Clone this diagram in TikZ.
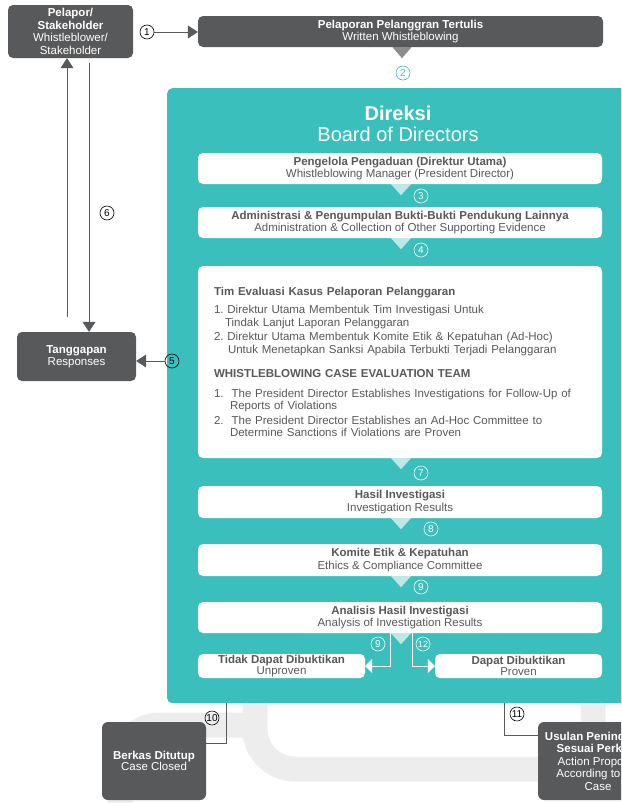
\documentclass[tikz,border=0pt]{standalone}
\usepackage{fontspec}
\setmainfont{Liberation Sans}
\usetikzlibrary{arrows.meta}

\definecolor{boxgray}{HTML}{58595B}
\definecolor{tipgray}{HTML}{8C8C8C}
\definecolor{wbteal}{HTML}{3BBFBC}
\definecolor{tipteal}{HTML}{BDE8E6}
\definecolor{bandgray}{HTML}{EDEDED}

\newcommand{\boxfont}{\fontsize{11.5}{12.5}\selectfont}

\tikzset{
	dbox/.style={fill=boxgray, rounded corners=5pt, text=white, align=center, inner sep=0pt},
	wbox/.style={fill=white, rounded corners=5pt, text=boxgray, align=center, inner sep=0pt, minimum width=404pt},
	num/.style={circle, draw, line width=0.6pt, inner sep=0pt, minimum size=14pt, font=\fontsize{10}{10}\selectfont},
	flow/.style={draw=boxgray, line width=0.8pt, -{Triangle[length=10pt,width=13pt]}},
	link/.style={draw=boxgray, line width=0.8pt},
	wflow/.style={draw=white, line width=0.8pt, -{Triangle[length=7pt,width=14pt]}},
	band/.style={draw=bandgray, line width=25pt, rounded corners=40pt},
}

\begin{document}
\begin{tikzpicture}[x=1pt, y=-1pt, font=\boxfont]
	\useasboundingbox (0,0) rectangle (621,803);
	\clip (0,0) rectangle (621,803);

	% grey bands in the background
	\draw [band] (255,690) -- (255,769) -- (593,769) -- (593,690);
	\draw [band] (255,725) -- (120,725) -- (120,840);

	% reporter and written report
	\node [dbox, minimum width=125pt, minimum height=53pt] (pelapor) at (70.5,31.5) {\textbf{Pelapor/}\\\textbf{Stakeholder}\\Whistleblower/\\Stakeholder};
	\node [dbox, minimum width=405pt, minimum height=31pt] (pelaporan) at (400.5,31.5) {\textbf{Pelaporan Pelanggran Tertulis}\\Written Whistleblowing};
	\fill [tipgray] ([xshift=-8pt]pelaporan.south) -- ([xshift=11pt]pelaporan.south) -- ([xshift=1.5pt,yshift=-11pt]pelaporan.south) -- cycle;
	\node [num] (n1) at (147,32) {1};
	\draw [flow] (n1) -- (n1 -| pelaporan.west);
	\node [num, draw=wbteal, text=wbteal] (n2) at (403,73) {2};

	% board of directors
	\node [fill=wbteal, rounded corners=5pt, anchor=north west, inner sep=0pt, minimum width=480pt, minimum height=615pt] (bod) at (167,88) {};
	\node [text=white, font=\bfseries\fontsize{20}{20}\selectfont] (direksi) at (398,113) {Direksi};
	\node [text=white, font=\fontsize{20}{20}\selectfont] (board) at (398,134) {Board of Directors};

	\node [wbox, minimum height=31pt] (manager) at (400,168.5) {\textbf{Pengelola Pengaduan (Direktur Utama)}\\Whistleblowing Manager (President Director)};
	\node [wbox, minimum height=31pt] (admin) at (400,222.5) {\textbf{Administrasi \& Pengumpulan Bukti-Bukti Pendukung Lainnya}\\Administration \& Collection of Other Supporting Evidence};
	\node [wbox, minimum height=192pt, text width=372pt, align=left] (team) at (400,362) {%
		\textbf{Tim Evaluasi Kasus Pelaporan Pelanggaran}\\[6pt]
		1.\ Direktur Utama Membentuk Tim Investigasi Untuk\\
		\hspace*{11pt}Tindak Lanjut Laporan Pelanggaran\\[2pt]
		2.\ Direktur Utama Membentuk Komite Etik \& Kepatuhan (Ad-Hoc)\\
		\hspace*{14pt}Untuk Menetapkan Sanksi Apabila Terbukti Terjadi Pelanggaran\\[12pt]
		\textbf{WHISTLEBLOWING CASE EVALUATION TEAM}\\[7pt]
		1.\hspace{8pt}The President Director Establishes Investigations for Follow-Up of\\
		\hspace*{16pt}Reports of Violations\\[2pt]
		2.\hspace{8pt}The President Director Establishes an Ad-Hoc Committee to\\
		\hspace*{16pt}Determine Sanctions if Violations are Proven};
	\node [wbox, minimum height=32pt] (result) at (400,502) {\textbf{Hasil Investigasi}\\Investigation Results};
	\node [wbox, minimum height=32pt] (ethics) at (400,560) {\textbf{Komite Etik \& Kepatuhan}\\Ethics \& Compliance Committee};
	\node [wbox, minimum height=31pt] (analysis) at (400,617.5) {\textbf{Analisis Hasil Investigasi}\\Analysis of Investigation Results};
	\node [wbox, minimum width=167pt, minimum height=24pt, font=\fontsize{11.5}{11}\selectfont] (unproven) at (281.5,666) {\textbf{Tidak Dapat Dibuktikan}\\Unproven};
	\node [wbox, minimum width=167pt, minimum height=24pt, font=\fontsize{11.5}{11}\selectfont] (proven) at (518.5,666) {\textbf{Dapat Dibuktikan}\\Proven};

	\foreach \b in {manager,admin,team,result,ethics,analysis}
		\fill [tipteal] ([xshift=-9pt]\b.south) -- ([xshift=11pt]\b.south) -- ([xshift=1pt,yshift=-11pt]\b.south) -- cycle;

	\node [num, draw=white, text=white] (n3) at (421,196) {3};
	\node [num, draw=white, text=white] (n4) at (421,250) {4};
	\node [num, draw=white, text=white] (n7) at (421,473) {7};
	\node [num, draw=white, text=white] (n8) at (431,529) {8};
	\node [num, draw=white, text=white] (n9) at (421,587) {9};
	\node [num, draw=white, text=white] (n9b) at (378,644) {9};
	\node [num, draw=white, text=white, font=\fontsize{9}{9}\selectfont] (n12) at (423,644) {12};

	\coordinate (l9) at (390,640);
	\coordinate (l12) at (412,640);
	\draw [wflow] (analysis.south -| l9) |- (unproven.east);
	\draw [wflow] (analysis.south -| l12) |- (proven.west);

	% responses
	\node [dbox, minimum width=119pt, minimum height=49pt] (tanggapan) at (76.5,356.5) {\textbf{Tanggapan}\\Responses};
	\node [num] (n5) at (172,361) {5};
	\draw [flow] (n5.west) -- (n5.west -| tanggapan.east);
	\coordinate (up6) at (67,0);
	\coordinate (dn6) at (89,0);
	\draw [flow, shorten <=15pt] (tanggapan.north -| up6) -- (pelapor.south -| up6);
	\draw [flow, shorten <=5pt] (pelapor.south -| dn6) -- (tanggapan.north -| dn6);
	\node [num] (n6) at (107,213) {6};

	% outcomes
	\node [dbox, rounded corners=6pt, minimum width=104pt, minimum height=78pt, font=\fontsize{11.5}{10.5}\selectfont] (berkas) at (154,761) {\textbf{Berkas Ditutup}\\Case Closed};
	\node [dbox, rounded corners=6pt, minimum width=120pt, minimum height=78pt] (usulan) at (598,761) {\textbf{Usulan Penindakan}\\\textbf{Sesuai Perkara}\\Action Proposal\\According to the\\Case};
	\coordinate (c10) at (226,0);
	\coordinate (c11) at (504,0);
	\draw [link] (bod.south -| c10) |- ([yshift=18pt]berkas.east);
	\draw [link] (bod.south -| c11) |- ([yshift=26pt]usulan.west);
	\node [num] (n10) at (212,718) {10};
	\node [num] (n11) at (517,714) {11};
\end{tikzpicture}
\end{document}
